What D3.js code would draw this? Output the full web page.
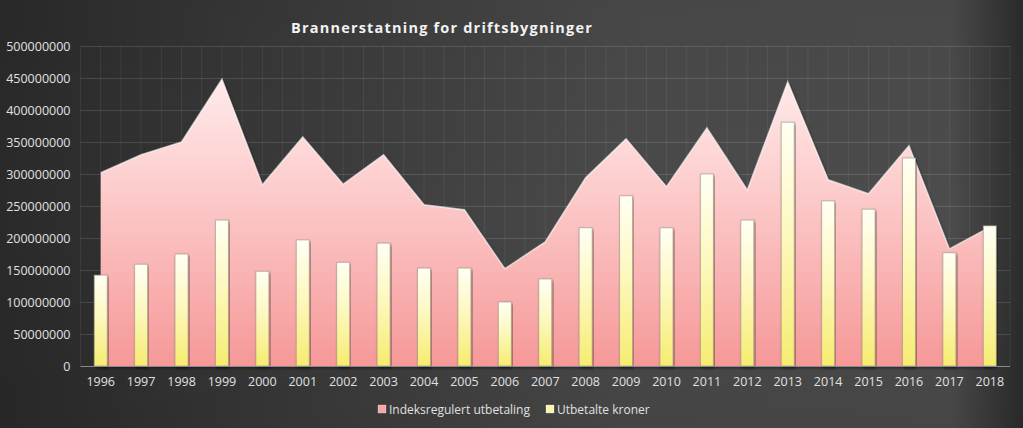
<!DOCTYPE html>
<html><head><meta charset="utf-8">
<script src="https://cdn.jsdelivr.net/npm/d3@7"></script>
<style>html,body{margin:0;padding:0;background:#333;}svg{display:block;}</style>
</head><body>
<svg id="chart" width="1023" height="428"></svg>
<script>
const years = ["1996","1997","1998","1999","2000","2001","2002","2003","2004","2005","2006","2007","2008","2009","2010","2011","2012","2013","2014","2015","2016","2017","2018"];
const indeksregulert = [302e6,330e6,350e6,448e6,283e6,358e6,284e6,330e6,252e6,244e6,152e6,194e6,294e6,355e6,280e6,372e6,275e6,444e6,291e6,269e6,344e6,183e6,217e6];
const utbetalte = [142e6,159e6,175e6,228e6,148e6,197e6,162e6,192e6,153e6,153e6,100e6,136e6,216e6,266e6,216e6,300e6,228e6,381e6,258e6,245e6,325e6,177e6,219e6];
const yTicks = [0,50e6,100e6,150e6,200e6,250e6,300e6,350e6,400e6,450e6,500e6];
const title = "Brannerstatning for driftsbygninger";
const legendLabels = ["Indeksregulert utbetaling","Utbetalte kroner"];

const W = 1023, H = 428;
const m = {left:80.5, right:1010, top:46, bottom:366};
const svg = d3.select("#chart");
const defs = svg.append("defs");
const font = "'Open Sans', 'DejaVu Sans', sans-serif";

// background
const bg = defs.append("linearGradient").attr("id","bg").attr("x1","0").attr("x2","1").attr("y1","0").attr("y2","0");
[["0%","#2a2a2a"],["25%","#383838"],["60%","#4a4a4a"],["93%","#4c4c4c"],["100%","#2c2c2c"]].forEach(s=>bg.append("stop").attr("offset",s[0]).attr("stop-color",s[1]));
svg.append("rect").attr("width",W).attr("height",H).attr("fill","url(#bg)");
const vg = defs.append("linearGradient").attr("id","vshade").attr("x1","0").attr("x2","0").attr("y1","0").attr("y2","1");
[["0%","#000",0.05],["50%","#000",0],["100%","#000",0.08]].forEach(s=>vg.append("stop").attr("offset",s[0]).attr("stop-color",s[1]).attr("stop-opacity",s[2]));
svg.append("rect").attr("width",W).attr("height",H).attr("fill","url(#vshade)");

const x = d3.scaleBand().domain(years).range([m.left,m.right]).paddingInner(0).paddingOuter(0);
const y = d3.scaleLinear().domain([0,500e6]).range([m.bottom,m.top]);
const bw = x.bandwidth();
const cx = d => x(d)+bw/2;

// vertical grid lines at half categories
const g = svg.append("g");
for (let i=0;i<=years.length*2;i++){
  const xx = m.left + i*bw/2;
  g.append("line").attr("x1",xx).attr("x2",xx).attr("y1",m.top).attr("y2",m.bottom)
   .attr("stroke","#ffffff").attr("stroke-opacity",0.07).attr("stroke-width",1);
}
// horizontal grid
svg.append("g").selectAll("line").data(yTicks.slice(1)).join("line")
  .attr("x1",m.left).attr("x2",m.right).attr("y1",d=>Math.round(y(d))+0.5).attr("y2",d=>Math.round(y(d))+0.5)
  .attr("stroke","#ffffff").attr("stroke-opacity",0.13).attr("stroke-width",1);

// area
const ag = defs.append("linearGradient").attr("id","areaGrad").attr("gradientUnits","userSpaceOnUse")
  .attr("x1",0).attr("x2",0).attr("y1",y(450e6)).attr("y2",y(0));
[["0%","#ffeaea"],["35%","#fdcfcf"],["100%","#f69898"]].forEach(s=>ag.append("stop").attr("offset",s[0]).attr("stop-color",s[1]));
const shadow = defs.append("filter").attr("id","shadow").attr("x","-10%").attr("y","-10%").attr("width","120%").attr("height","130%");
shadow.append("feDropShadow").attr("dx",1.5).attr("dy",2).attr("stdDeviation",1.5).attr("flood-color","#000").attr("flood-opacity",0.45);

const area = d3.area().x((d,i)=>cx(years[i])).y0(y(0)).y1(d=>y(d));
const line = d3.line().x((d,i)=>cx(years[i])).y(d=>y(d));
svg.append("path").datum(indeksregulert).attr("d",area).attr("fill","url(#areaGrad)").attr("filter","url(#shadow)");
svg.append("path").datum(indeksregulert).attr("d",line).attr("fill","none").attr("stroke","#ffffff").attr("stroke-opacity",0.6).attr("stroke-width",1.6);

// bars
const bg2 = defs.append("linearGradient").attr("id","barGrad").attr("x1",0).attr("x2",0).attr("y1",0).attr("y2",1);
[["0%","#fffff4"],["45%","#fdf8c0"],["100%","#f6ec70"]].forEach(s=>bg2.append("stop").attr("offset",s[0]).attr("stop-color",s[1]));
const barW = 13;
svg.append("g").selectAll("rect").data(utbetalte).join("rect")
  .attr("x",(d,i)=>cx(years[i])-barW/2).attr("width",barW)
  .attr("y",d=>y(d)).attr("height",d=>y(0)-y(d))
  .attr("fill","url(#barGrad)").attr("stroke","#9a8f80").attr("stroke-opacity",0.6).attr("stroke-width",1)
  .attr("filter","url(#shadow)");

// zero axis line
svg.append("line").attr("x1",m.left).attr("x2",m.right).attr("y1",y(0)+0.5).attr("y2",y(0)+0.5)
  .attr("stroke","#8a8a8a").attr("stroke-width",1);

// y labels
const yAxis = d3.axisLeft(y).tickValues(yTicks).tickFormat(d=>String(d)).tickSize(0).tickPadding(10);
const ya = svg.append("g").attr("transform",`translate(${m.left},0)`).call(yAxis);
ya.select(".domain").remove();
ya.selectAll("text").attr("fill","#e0e0e0").attr("font-family",font).attr("font-size",12.5);

// x labels
const xAxis = d3.axisBottom(x).tickSize(0).tickPadding(11);
const xa = svg.append("g").attr("transform",`translate(0,${m.bottom})`).call(xAxis);
xa.select(".domain").remove();
xa.selectAll("text").attr("fill","#e0e0e0").attr("font-family",font).attr("font-size",12.5);

// title
svg.append("text").attr("x",442).attr("y",33).attr("text-anchor","middle")
  .attr("fill","#f2f2f2").attr("font-family",font).attr("font-weight","bold").attr("font-size",14.5)
  .attr("letter-spacing",1.2).text(title);

// legend
const lg = svg.append("g").attr("font-family",font).attr("font-size",12).attr("fill","#e0e0e0");
const legItems = [{label:legendLabels[0], sw:"#f7a6a6", x:378},{label:legendLabels[1], sw:"#f9f4b0", x:546}];
legItems.forEach(it=>{
  lg.append("rect").attr("x",it.x).attr("y",405).attr("width",8).attr("height",8).attr("fill",it.sw).attr("stroke","#ffffff").attr("stroke-opacity",0.5).attr("stroke-width",0.5);
  lg.append("text").attr("x",it.x+11).attr("y",413.5).text(it.label);
});
</script>
</body></html>
